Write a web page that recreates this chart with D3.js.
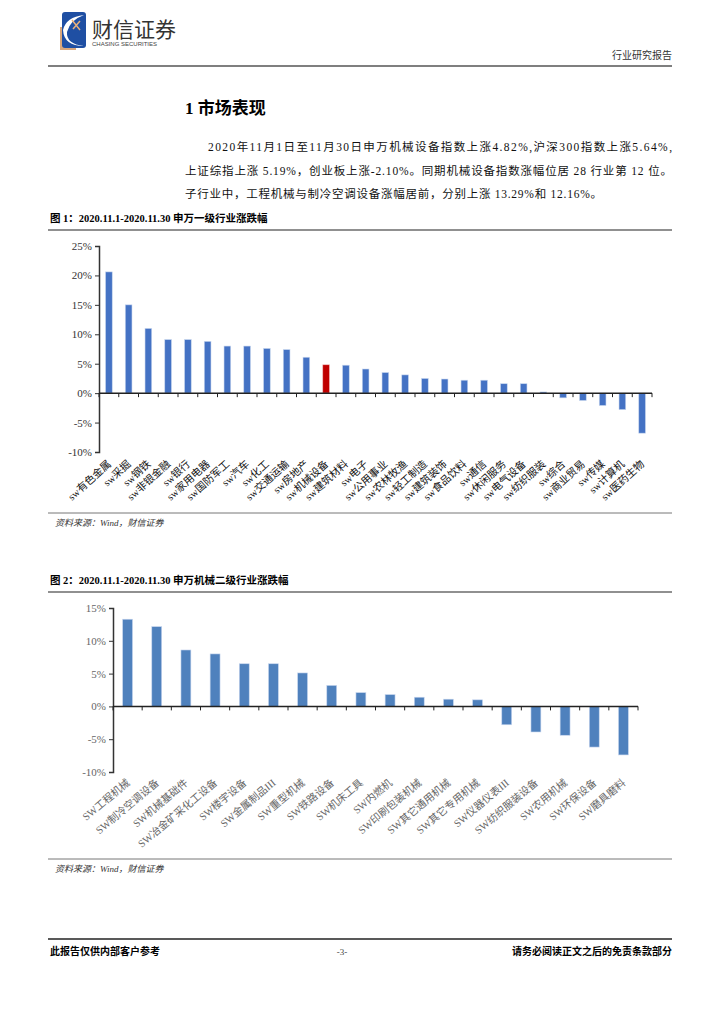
<!DOCTYPE html>
<html>
<head>
<meta charset="utf-8">
<script src="https://cdn.jsdelivr.net/npm/d3@7"></script>
<style>
  body { margin: 0; background: #fff; }
  svg text { font-family: "Liberation Serif", "Noto Sans CJK SC", serif; }
</style>
</head>
<body>
<div id="viz"></div>
<script>
// chart 1: 申万一级行业
var industries1 = ["sw有色金属","sw采掘","sw钢铁","sw非银金融","sw银行","sw家用电器","sw国防军工","sw汽车",
  "sw化工","sw交通运输","sw房地产","sw机械设备","sw建筑材料","sw电子","sw公用事业","sw农林牧渔",
  "sw轻工制造","sw建筑装饰","sw食品饮料","sw通信","sw休闲服务","sw电气设备","sw纺织服装","sw综合",
  "sw商业贸易","sw传媒","sw计算机","sw医药生物"];
var change1 = [20.6, 15.0, 11.0, 9.1, 9.1, 8.8, 8.0, 8.0, 7.6, 7.4, 6.1, 4.82, 4.75, 4.1, 3.5, 3.1,
  2.5, 2.4, 2.2, 2.2, 1.6, 1.6, 0.2, -0.8, -1.25, -2.1, -2.8, -6.8];
var highlight1 = "sw机械设备";
var ticks1 = [-10, -5, 0, 5, 10, 15, 20, 25];

// chart 2: 申万机械二级行业
var industries2 = ["SW工程机械","SW制冷空调设备","SW机械基础件","SW冶金矿采化工设备","SW楼宇设备","SW金属制品III",
  "SW重型机械","SW铁路设备","SW机床工具","SW内燃机","SW印刷包装机械","SW其它通用机械","SW其它专用机械",
  "SW仪器仪表III","SW纺织服装设备","SW农用机械","SW环保设备","SW磨具磨料"];
var change2 = [13.29, 12.16, 8.6, 8.0, 6.5, 6.5, 5.1, 3.2, 2.1, 1.8, 1.4, 1.1, 1.0, -2.8, -3.9, -4.4, -6.2, -7.4];
var ticks2 = [-10, -5, 0, 5, 10, 15];

var svg = d3.select("#viz").append("svg")
  .attr("width", 724).attr("height", 1024);

// ---------- page header ----------
var logo = svg.append("g");
logo.append("rect").attr("x", 60).attr("y", 27).attr("width", 16).attr("height", 23).attr("fill", "#d9a77c");
logo.append("rect").attr("x", 62).attr("y", 12).attr("width", 24).attr("height", 36).attr("rx", 3).attr("fill", "#1f4fa3");
logo.append("path").attr("d", "M63,30 Q66,17 84,15 Q70,20 67,32 Q66,44 84,46 Q64,46 63,30 Z").attr("fill", "#fff");
logo.append("path").attr("d", "M72,20 L80,30 M80,21 L73,29").attr("stroke", "#e8b07a").attr("stroke-width", 1.5);
svg.append("text").attr("x", 92).attr("y", 37).attr("font-size", 21).attr("fill", "#333")
  .style("font-family", "'Noto Sans CJK SC', sans-serif").text("财信证券");
svg.append("text").attr("x", 92).attr("y", 46).attr("font-size", 6).attr("fill", "#444")
  .style("font-family", "'Liberation Sans', sans-serif").text("CHASING SECURITIES");
svg.append("text").attr("x", 672).attr("y", 59).attr("text-anchor", "end").attr("font-size", 10).attr("fill", "#333")
  .text("行业研究报告");
svg.append("line").attr("x1", 48).attr("x2", 672).attr("y1", 66).attr("y2", 66)
  .attr("stroke", "#555").attr("stroke-width", 1.5);

// ---------- section text ----------
svg.append("text").attr("x", 185).attr("y", 114).attr("font-size", 17).attr("font-weight", "bold").text("1 市场表现");
var para = [
  {x: 208, y: 151, t: "2020年11月1日至11月30日申万机械设备指数上涨4.82%,沪深300指数上涨5.64%,"},
  {x: 185, y: 175, t: "上证综指上涨 5.19%，创业板上涨-2.10%。同期机械设备指数涨幅位居 28 行业第 12 位。"},
  {x: 185, y: 198, t: "子行业中，工程机械与制冷空调设备涨幅居前，分别上涨 13.29%和 12.16%。"}
];
para.forEach(function(p) {
  svg.append("text").attr("x", p.x).attr("y", p.y).attr("font-size", 11.5).attr("fill", "#111")
    .attr("textLength", 672 - p.x - (p === para[2] ? 70 : 0)).attr("lengthAdjust", "spacing").text(p.t);
});

function caption(y, t) {
  svg.append("text").attr("x", 50).attr("y", y).attr("font-size", 10.5).attr("font-weight", "bold").text(t);
  svg.append("line").attr("x1", 48).attr("x2", 672).attr("y1", y + 8).attr("y2", y + 8)
    .attr("stroke", "#222").attr("stroke-width", 1.2);
}
function source(y) {
  svg.append("line").attr("x1", 48).attr("x2", 672).attr("y1", y - 10).attr("y2", y - 10)
    .attr("stroke", "#777").attr("stroke-width", 1);
  svg.append("text").attr("x", 55).attr("y", y + 3).attr("font-size", 9).attr("font-style", "italic")
    .attr("fill", "#333").text("资料来源：Wind，财信证券");
}

// ---------- generic bar chart ----------
function barChart(o) {
  var g = svg.append("g");
  var x = d3.scaleBand().domain(o.cats).range([o.x0, o.x1]).paddingInner(0.66).paddingOuter(0.33);
  var y = d3.scaleLinear().domain(o.domain).range([o.bottom, o.top]);

  var yAxis = g.append("g").attr("transform", "translate(" + o.x0 + ",0)")
    .call(d3.axisLeft(y).tickValues(o.ticks).tickSizeOuter(0).tickSize(4).tickFormat(function(d) { return d + "%"; }));
  yAxis.select(".domain").attr("stroke", "#333").attr("stroke-width", 1.5);
  yAxis.selectAll(".tick line").attr("stroke", "#333");
  yAxis.selectAll("text").attr("font-size", 11).attr("fill", o.tickColor)
    .style("font-family", "'Liberation Serif', serif");

  g.selectAll("rect.bar").data(o.vals).enter().append("rect")
    .attr("x", function(d, i) { return x(o.cats[i]); })
    .attr("width", x.bandwidth())
    .attr("y", function(d) { return y(Math.max(0, d)); })
    .attr("height", function(d) { return Math.abs(y(d) - y(0)); })
    .attr("fill", function(d, i) { return o.cats[i] === o.highlight ? "#c00000" : o.color; })
    .attr("stroke", function(d, i) { return o.cats[i] === o.highlight ? "#f2c0c0" : "#c9d7ef"; })
    .attr("stroke-width", 0.6);

  // zero line with boundary ticks
  g.append("line").attr("x1", o.x0).attr("x2", o.x1).attr("y1", y(0)).attr("y2", y(0))
    .attr("stroke", "#222").attr("stroke-width", 1.5);
  var step = x.step();
  g.selectAll("line.bt").data(o.cats.concat(["_end"])).enter().append("line")
    .attr("x1", function(d, i) { return o.x0 + i * step; })
    .attr("x2", function(d, i) { return o.x0 + i * step; })
    .attr("y1", y(0)).attr("y2", y(0) + 4)
    .attr("stroke", "#222").attr("stroke-width", 1);

  g.selectAll("text.cat").data(o.cats).enter().append("text")
    .attr("transform", function(d) {
      return "translate(" + (x(d) + x.bandwidth() / 2 + 3) + "," + o.labelY + ") rotate(" + o.angle + ")";
    })
    .attr("text-anchor", "end").attr("font-size", o.labelSize).attr("fill", o.labelColor)
    .attr("font-weight", o.labelWeight)
    .text(function(d) { return d; });
}

caption(222, "图 1：2020.11.1-2020.11.30 申万一级行业涨跌幅");
barChart({cats: industries1, vals: change1, domain: [-10, 25], ticks: ticks1,
  x0: 99, x1: 652, top: 246, bottom: 452, color: "#4472c4", highlight: highlight1,
  tickColor: "#333", labelColor: "#111", labelSize: 10.5, labelWeight: "normal", labelY: 465, angle: -42});
source(523);

caption(584, "图 2：2020.11.1-2020.11.30 申万机械二级行业涨跌幅");
barChart({cats: industries2, vals: change2, domain: [-10, 15], ticks: ticks2,
  x0: 113, x1: 638, top: 608, bottom: 772, color: "#4f81bd", highlight: null,
  tickColor: "#666", labelColor: "#666", labelSize: 10.5, labelWeight: "normal", labelY: 784, angle: -40});
source(869);

// ---------- footer ----------
svg.append("line").attr("x1", 48).attr("x2", 672).attr("y1", 939).attr("y2", 939)
  .attr("stroke", "#222").attr("stroke-width", 1.5);
svg.append("text").attr("x", 50).attr("y", 955).attr("font-size", 10).attr("font-weight", "bold").text("此报告仅供内部客户参考");
svg.append("text").attr("x", 342).attr("y", 955).attr("font-size", 9).attr("text-anchor", "middle").attr("fill", "#444").text("-3-");
svg.append("text").attr("x", 672).attr("y", 955).attr("font-size", 10).attr("font-weight", "bold").attr("text-anchor", "end")
  .text("请务必阅读正文之后的免责条款部分");
</script>
</body>
</html>
